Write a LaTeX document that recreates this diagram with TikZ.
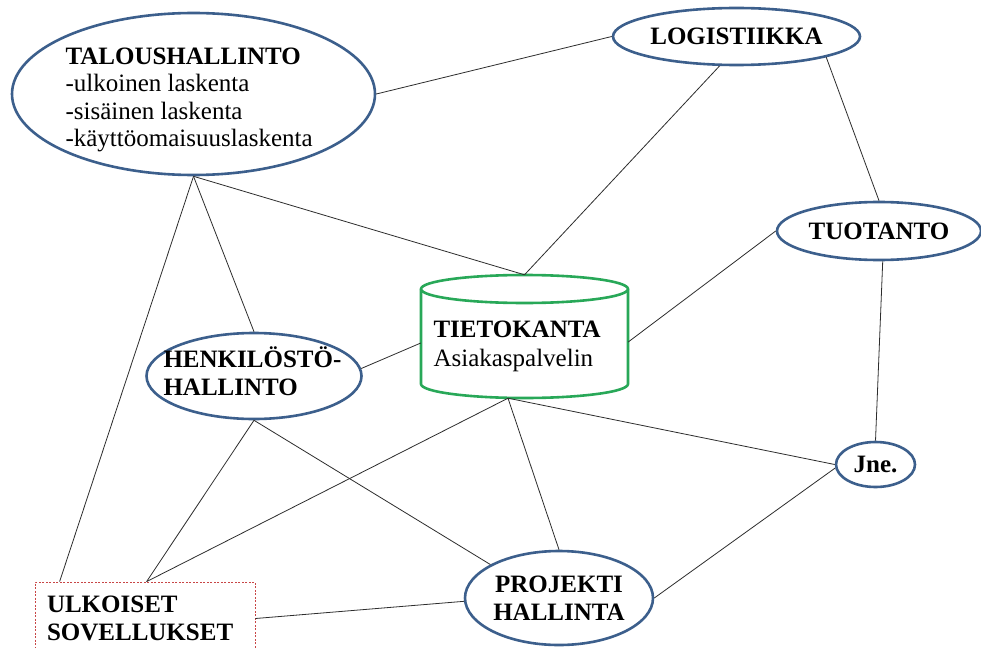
\documentclass[tikz,border=0pt]{standalone}
\usepackage{fontspec}
\setmainfont{Liberation Serif}
\usetikzlibrary{shapes.geometric,calc}
\definecolor{ellblue}{RGB}{60,95,140}
\definecolor{dbgreen}{RGB}{40,168,88}
\definecolor{boxred}{RGB}{200,70,70}
\definecolor{wirecol}{RGB}{45,45,45}
\begin{document}
\begin{tikzpicture}[x=1pt,y=1pt,yscale=-1,
  txt/.style={font=\fontsize{25}{27.5}\selectfont},
  hd/.style={font=\fontsize{25}{28}\selectfont\bfseries},
  bubble/.style={ellipse, draw=ellblue, line width=2.6pt, inner sep=0pt, fill=white},
  cyl/.style={draw=dbgreen, line width=2.6pt},
  wire/.style={draw=wirecol, line width=0.8pt}]

\fill[white] (0,0) rectangle (981,647);
\useasboundingbox (0,0) rectangle (981,647);

% departments (multi-line texts are anchored at the baseline of their last line)
\node[bubble, minimum width=363pt, minimum height=162pt] (tal) at (193.5,94) {};
\node[txt, align=left, anchor=base west] (talT) at (62,147)
  {\textbf{TALOUSHALLINTO}\\-ulkoinen laskenta\\-sisäinen laskenta\\-käyttöomaisuuslaskenta};
\node[bubble, hd, minimum width=247pt, minimum height=57pt] (log) at (736.5,36.5) {LOGISTIIKKA};
\node[bubble, hd, minimum width=204pt, minimum height=58pt] (tuo) at (879,231) {TUOTANTO};
\node[bubble, hd, minimum width=79pt, minimum height=45pt] (jne) at (875.5,464.5) {Jne.};
\node[bubble, minimum width=215pt, minimum height=86pt] (hen) at (254,376) {};
\node[hd, align=left, anchor=base west] (henT) at (160,395) {HENKILÖSTÖ-\\HALLINTO};
\node[bubble, hd, align=center, minimum width=188pt, minimum height=94pt] (pro) at (559,598) {PROJEKTI\\HALLINTA};

% database cylinder
\node[minimum width=207pt, minimum height=123pt, inner sep=0pt] (tk) at (524.5,336.5) {};
\draw[cyl, fill=white] (421,289) -- (421,384)
  arc[start angle=180, end angle=0, x radius=103.5, y radius=14] -- (628,289)
  arc[start angle=0, end angle=-180, x radius=103.5, y radius=14] -- cycle;
\draw[cyl] (421,289) arc[start angle=180, end angle=0, x radius=103.5, y radius=14];
\node[font=\fontsize{25}{29}\selectfont, align=left, anchor=base west] (tkT) at (430,366)
  {\textbf{TIETOKANTA}\\Asiakaspalvelin};

% external applications
\node[draw=boxred, line width=0.8pt, dash pattern=on 2pt off 1.5pt, hd, text width=196pt,
  align=left, inner xsep=12pt, inner ysep=0pt, minimum height=73pt] (ulk) at (145,618.5)
  {ULKOISET\\SOVELLUKSET};

\coordinate (tkb) at ($(tk.south)+(-16.5,0)$);
\coordinate (ulkA) at ($(ulk.north west)+(25,0)$);
\coordinate (ulkB) at ($(ulk.north west)+(112,0)$);

% connections
\draw[wire] (tal.east) -- (log.west);
\draw[wire] (log.-120) -- (tk.north);
\draw[wire] (log.-13) -- (tuo.north);
\draw[wire] (tal.south) -- (tk.north);
\draw[wire] (tal.south) -- (hen.north);
\draw[wire] (tal.south) -- (ulkA);
\draw[wire] (tuo.west) -- ($(tk.east)+(0,5.5)$);
\draw[wire] (tuo.-83) -- (jne.north);
\draw[wire] (hen.4) -- ($(tk.west)+(0,6.5)$);
\draw[wire] (hen.south) -- (ulkB);
\draw[wire] (hen.south) -- (pro.154);
\draw[wire] (tkb) -- (ulkB);
\draw[wire] (tkb) -- (pro.north);
\draw[wire] (tkb) -- (jne.west);
\draw[wire] (jne.-175) -- (pro.east);
\draw[wire] (ulk.east) -- (pro.-178);
\end{tikzpicture}
\end{document}
